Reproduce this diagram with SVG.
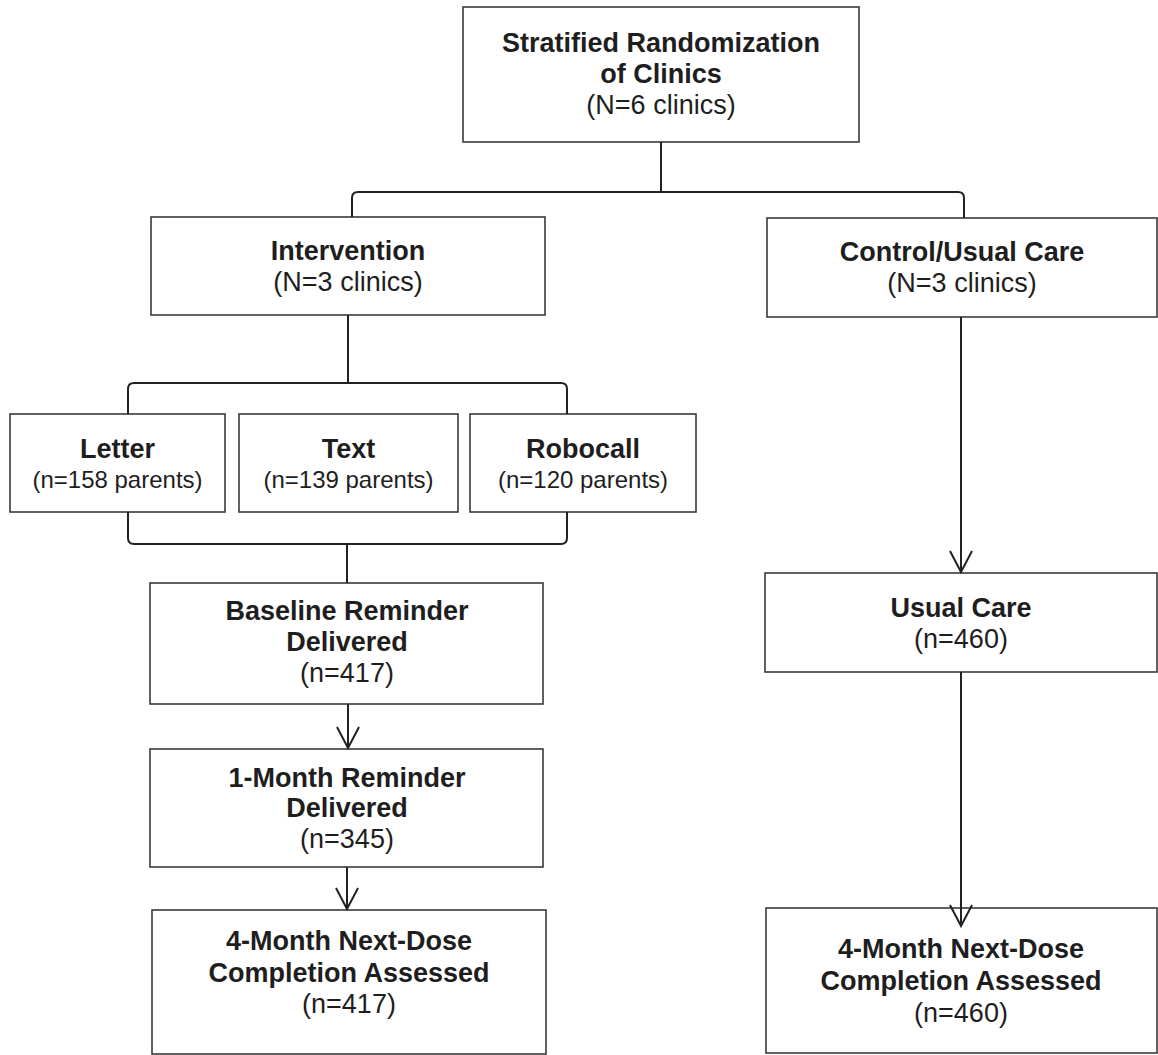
<svg xmlns="http://www.w3.org/2000/svg" width="1158" height="1055" viewBox="0 0 1158 1055">
<style>
.box{fill:#fff;stroke:#3a3a3a;stroke-width:1.6}
.c{fill:none;stroke:#222;stroke-width:2}
text{font-family:"Liberation Sans",Arial,sans-serif;fill:#1e1e1e;text-anchor:middle}
.b{font-weight:bold;font-size:27px}
.r{font-size:27px}
.s{font-size:24px}
</style>
<defs>
<marker id="arr" viewBox="0 0 24 24" markerWidth="24" markerHeight="24" refX="22" refY="12" orient="auto" markerUnits="userSpaceOnUse">
<path d="M1,1 L22,12 L1,23" fill="none" stroke="#222" stroke-width="2"/>
</marker>
</defs>
<rect width="1158" height="1055" fill="#fff"/>
<g id="n-randomization">
<rect class="box" x="463" y="7" width="396" height="135"/>
<text class="b" x="661" y="52">Stratified Randomization</text>
<text class="b" x="661" y="83">of Clinics</text>
<text class="r" x="661" y="114">(N=6 clinics)</text>
</g>
<g id="n-intervention">
<rect class="box" x="151" y="217" width="394" height="98"/>
<text class="b" x="348" y="260">Intervention</text>
<text class="r" x="348" y="291">(N=3 clinics)</text>
</g>
<g id="n-control">
<rect class="box" x="767" y="218" width="390" height="99"/>
<text class="b" x="962" y="261">Control/Usual Care</text>
<text class="r" x="962" y="292">(N=3 clinics)</text>
</g>
<g id="n-letter">
<rect class="box" x="10" y="414" width="215" height="98"/>
<text class="b" x="117.5" y="458">Letter</text>
<text class="s" x="117.5" y="488">(n=158 parents)</text>
</g>
<g id="n-text">
<rect class="box" x="239" y="414" width="219" height="98"/>
<text class="b" x="348.5" y="458">Text</text>
<text class="s" x="348.5" y="488">(n=139 parents)</text>
</g>
<g id="n-robocall">
<rect class="box" x="470" y="414" width="226" height="98"/>
<text class="b" x="583" y="458">Robocall</text>
<text class="s" x="583" y="488">(n=120 parents)</text>
</g>
<g id="n-baseline">
<rect class="box" x="150" y="583" width="393" height="121"/>
<text class="b" x="347" y="620">Baseline Reminder</text>
<text class="b" x="347" y="651">Delivered</text>
<text class="r" x="347" y="682">(n=417)</text>
</g>
<g id="n-onemonth">
<rect class="box" x="150" y="749" width="393" height="118"/>
<text class="b" x="347" y="787">1-Month Reminder</text>
<text class="b" x="347" y="817">Delivered</text>
<text class="r" x="347" y="848">(n=345)</text>
</g>
<g id="n-fourmonth-int">
<rect class="box" x="152" y="910" width="394" height="144"/>
<text class="b" x="349" y="950">4-Month Next-Dose</text>
<text class="b" x="349" y="982">Completion Assessed</text>
<text class="r" x="349" y="1013">(n=417)</text>
</g>
<g id="n-usualcare">
<rect class="box" x="765" y="573" width="392" height="99"/>
<text class="b" x="961" y="617">Usual Care</text>
<text class="r" x="961" y="648">(n=460)</text>
</g>
<g id="n-fourmonth-ctl">
<rect class="box" x="766" y="908" width="391" height="145"/>
<text class="b" x="961" y="958">4-Month Next-Dose</text>
<text class="b" x="961" y="990">Completion Assessed</text>
<text class="r" x="961" y="1022">(n=460)</text>
</g>
<g id="connectors">
<path class="c" d="M661,142 V192"/>
<path class="c" d="M352,217 V198 Q352,192 358,192 H958 Q964,192 964,198 V218"/>
<path class="c" d="M348,315 V383"/>
<path class="c" d="M128,414 V389 Q128,383 134,383 H561 Q567,383 567,389 V414"/>
<path class="c" d="M128,512 V538 Q128,544 134,544 H561 Q567,544 567,538 V512"/>
<path class="c" d="M347,544 V583"/>
<path class="c" d="M348,704 V748" marker-end="url(#arr)"/>
<path class="c" d="M347,867 V909" marker-end="url(#arr)"/>
<path class="c" d="M961,317 V572" marker-end="url(#arr)"/>
<path class="c" d="M961,672 V926" marker-end="url(#arr)"/>
</g>
</svg>
